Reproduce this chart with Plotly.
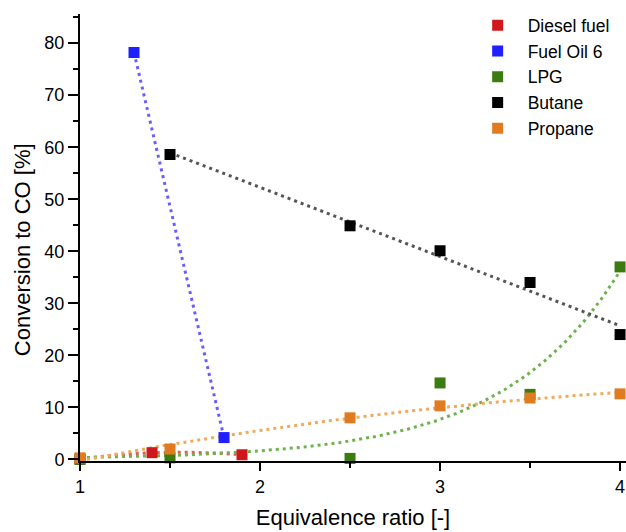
import numpy as np
import plotly.graph_objects as go

# ---- data ----
diesel_x = [1.0, 1.4, 1.9]
diesel_y = [0.1, 1.3, 0.9]

fueloil_x = [1.3, 1.8]
fueloil_y = [78.2, 4.2]

lpg_x = [1.0, 1.5, 2.5, 3.0, 3.5, 4.0]
lpg_y = [0.0, 0.3, 0.2, 14.7, 12.5, 37.0]

butane_x = [1.5, 2.5, 3.0, 3.5, 4.0]
butane_y = [58.6, 44.9, 40.1, 34.0, 24.0]

propane_x = [1.0, 1.5, 2.5, 3.0, 3.5, 4.0]
propane_y = [0.3, 2.0, 8.0, 10.3, 11.8, 12.6]

x_ticks = [1, 2, 3, 4]
y_ticks = [0, 10, 20, 30, 40, 50, 60, 70, 80]

names = ["Diesel fuel", "Fuel Oil 6", "LPG", "Butane", "Propane"]
marker_colors = ["#d0181c", "#1f1fff", "#3b7b10", "#000000", "#e07b22"]
line_colors = ["#e05858", "#6a5cff", "#6cb34e", "#555555", "#f0aa5c"]


def poly_curve(x, y, deg, n=200):
    c = np.polyfit(x, y, deg)
    xs = np.linspace(min(x), max(x), n)
    return xs, np.polyval(c, xs)


def exp_curve(x, y, n=200):
    x = np.asarray(x, float)
    y = np.asarray(y, float)
    best = None
    for b in np.linspace(0.1, 3.0, 2901):
        e = np.exp(b * x)
        a = (y * e).sum() / (e * e).sum()
        r = ((y - a * e) ** 2).sum()
        if best is None or r < best[0]:
            best = (r, a, b)
    _, a, b = best
    xs = np.linspace(x.min(), x.max(), n)
    return xs, a * np.exp(b * xs)


curves = [
    poly_curve(diesel_x, diesel_y, 2),
    poly_curve(fueloil_x, fueloil_y, 1),
    exp_curve(lpg_x, lpg_y),
    poly_curve(butane_x, butane_y, 1),
    poly_curve(propane_x, propane_y, 2),
]
points = [
    (diesel_x, diesel_y),
    (fueloil_x, fueloil_y),
    (lpg_x, lpg_y),
    (butane_x, butane_y),
    (propane_x, propane_y),
]

fig = go.Figure()
for (cx, cy), lc in zip(curves, line_colors):
    fig.add_trace(go.Scatter(
        x=cx, y=cy, mode="lines", showlegend=False, hoverinfo="skip",
        line=dict(color=lc, width=3, dash="3px,4px"), cliponaxis=False,
    ))
for (px, py), name, mc in zip(points, names, marker_colors):
    fig.add_trace(go.Scatter(
        x=px, y=py, mode="markers", name=name, cliponaxis=False,
        marker=dict(symbol="square", size=11, color=mc,
                    line=dict(width=0)),
    ))

axis_common = dict(
    showline=True, linecolor="black", linewidth=2,
    ticks="outside", tickcolor="black", tickwidth=2,
    showgrid=False, zeroline=False, mirror=False, automargin=False,
    tickfont=dict(size=18, color="black"),
)

fig.update_layout(
    width=626, height=532,
    paper_bgcolor="white", plot_bgcolor="white",
    font=dict(family="Liberation Sans, Arial, sans-serif", color="black"),
    margin=dict(l=80, r=0, t=14, b=71),
    xaxis=dict(
        range=[1, 4.033], tickvals=x_ticks, ticklen=8,
        minor=dict(dtick=0.5, ticks="outside", ticklen=5, tickcolor="black", tickwidth=2),
        title=dict(text="Equivalence ratio [-]", font=dict(size=22), standoff=14),
        **axis_common,
    ),
    yaxis=dict(
        range=[-0.3, 85.6], tickvals=y_ticks, ticklen=10,
        minor=dict(dtick=5, ticks="outside", ticklen=5, tickcolor="black", tickwidth=2),
        **axis_common,
    ),
    legend=dict(
        x=0.71, y=1.015, xanchor="left", yanchor="top",
        bgcolor="rgba(0,0,0,0)", font=dict(size=17.5),
        tracegroupgap=0, itemwidth=50,
    ),
    annotations=[dict(
        text="Conversion to CO [%]", textangle=-90, showarrow=False,
        xref="paper", yref="paper", x=-0.106, y=0.472,
        xanchor="center", yanchor="middle", font=dict(size=22),
    )],
)

fig.write_html(
    "out.html",
    config={"displayModeBar": False},
    post_script="document.body.style.margin='0px';document.body.style.overflow='hidden';",
)
